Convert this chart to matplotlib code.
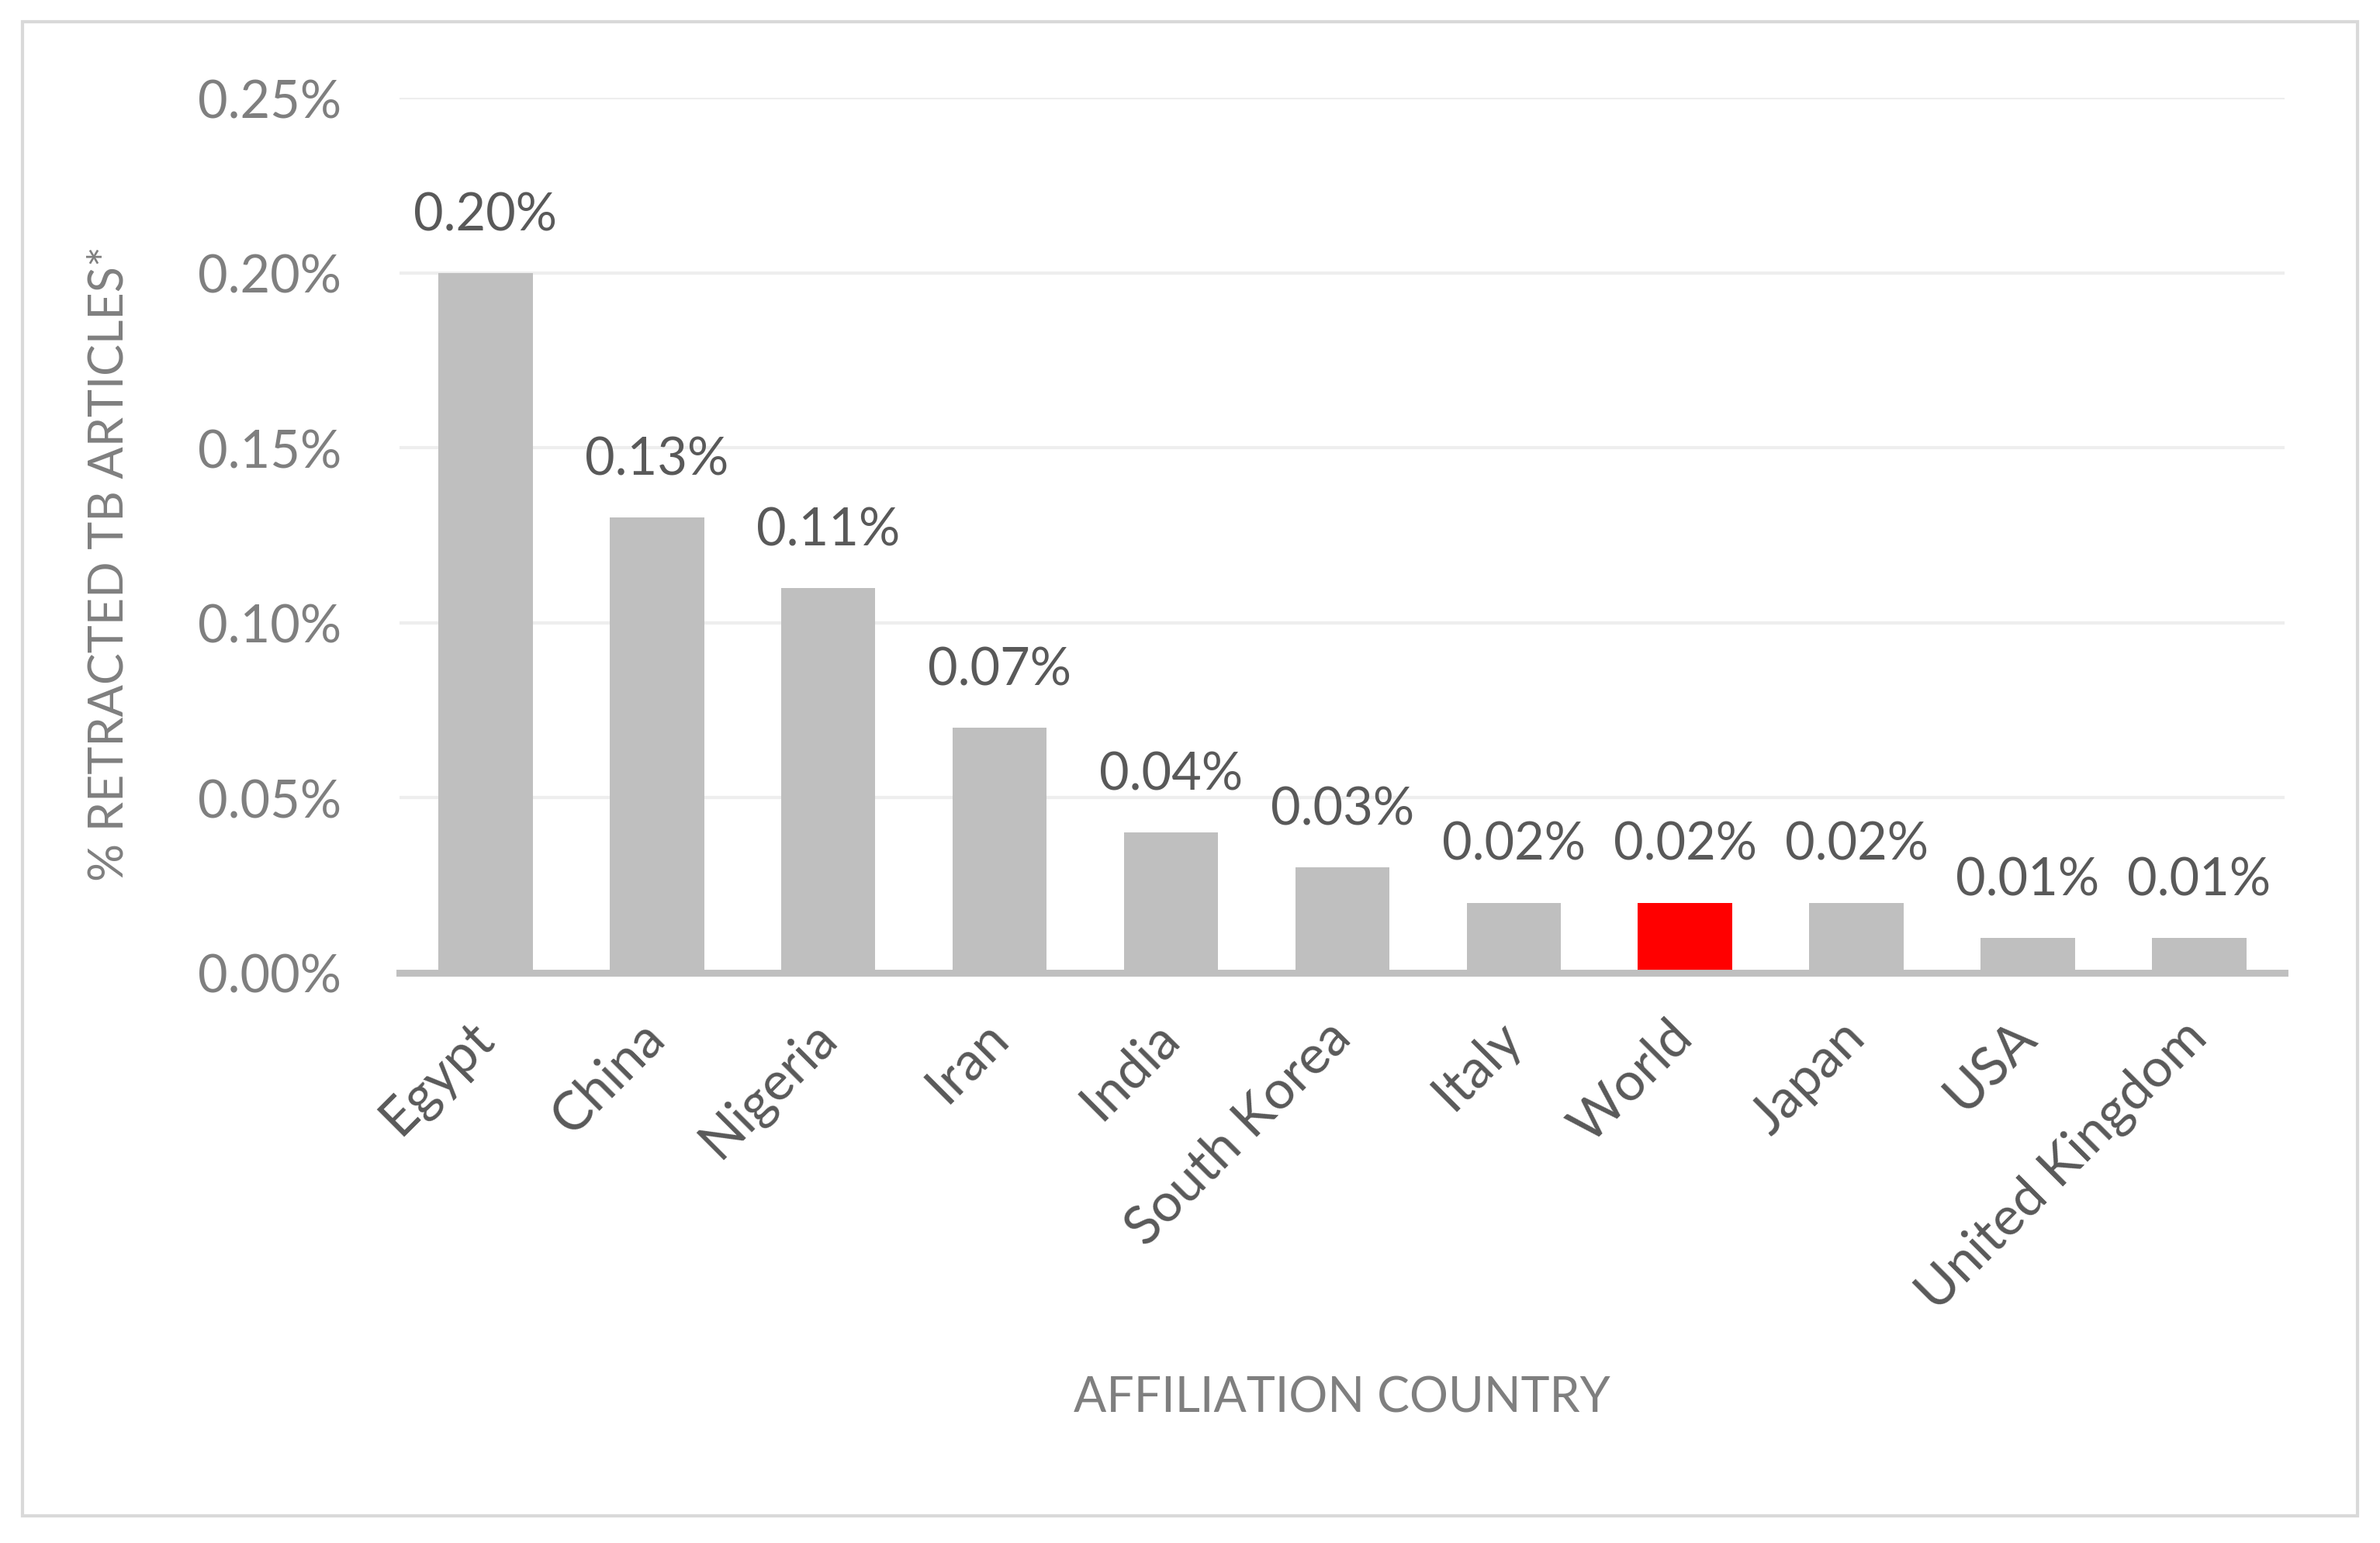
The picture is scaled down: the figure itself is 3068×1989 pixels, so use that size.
import matplotlib
matplotlib.use("Agg")
import matplotlib.pyplot as plt
from matplotlib.patches import Rectangle

plt.rcParams['font.family'] = ['Lato', 'DejaVu Sans']

# data (percent of retracted TB articles)
countries = ['Egypt', 'China', 'Nigeria', 'Iran', 'India', 'South Korea',
             'Italy', 'World', 'Japan', 'USA', 'United Kingdom']
values = [0.20, 0.13, 0.11, 0.07, 0.04, 0.03, 0.02, 0.02, 0.02, 0.01, 0.01]
yticks = [0.00, 0.05, 0.10, 0.15, 0.20, 0.25]
highlight = 'World'

fig = plt.figure(figsize=(15.34, 9.95), dpi=200)
ax = fig.add_axes([0.168, 0.3695, 0.792, 0.5665])

colors = ['#ff0000' if c == highlight else '#bfbfbf' for c in countries]
x = range(len(countries))
bars = ax.bar(x, values, width=0.55, color=colors, zorder=2)

# data labels
for b, v in zip(bars, values):
    ax.annotate(f"{v:.2f}%", (b.get_x() + b.get_width() / 2, b.get_height()),
                xytext=(0, 20), textcoords='offset points',
                ha='center', va='baseline', fontsize=24, color='#595959')

ax.set_xlim(-0.5, len(countries) - 0.5)
ax.set_ylim(0, 0.25)
ax.set_yticks(yticks)
ax.set_yticklabels([f"{t:.2f}%" for t in yticks], fontsize=24, color='#7f7f7f')
ax.yaxis.grid(True, color='#eeeeee', linewidth=1.5, zorder=0)
ax.set_axisbelow(True)

ax.set_xticks(list(x))
ax.set_xticklabels(countries, rotation=45, ha='right', va='center',
                   rotation_mode='anchor', fontsize=25, color='#595959')
ax.tick_params(axis='x', length=0, pad=26)
ax.tick_params(axis='y', length=0, pad=27)

for s in ['top', 'right', 'left']:
    ax.spines[s].set_visible(False)
ax.spines['bottom'].set_color('#bfbfbf')
ax.spines['bottom'].set_linewidth(3.2)

fig.text(0.046, 0.635, '% RETRACTED TB ARTICLES*', rotation=90,
         ha='center', va='center', fontsize=22, color='#7f7f7f')
fig.text(0.564, 0.094, 'AFFILIATION COUNTRY', ha='center', va='center',
         fontsize=22.5, color='#7f7f7f')

# outer chart border
fig.patches.append(Rectangle((15 / 1566, 1 - 997 / 1015), 1536 / 1566, 982 / 1015,
                             transform=fig.transFigure, fill=False,
                             edgecolor='#d9d9d9', linewidth=1.5))

fig.savefig('out.png', dpi=200)
